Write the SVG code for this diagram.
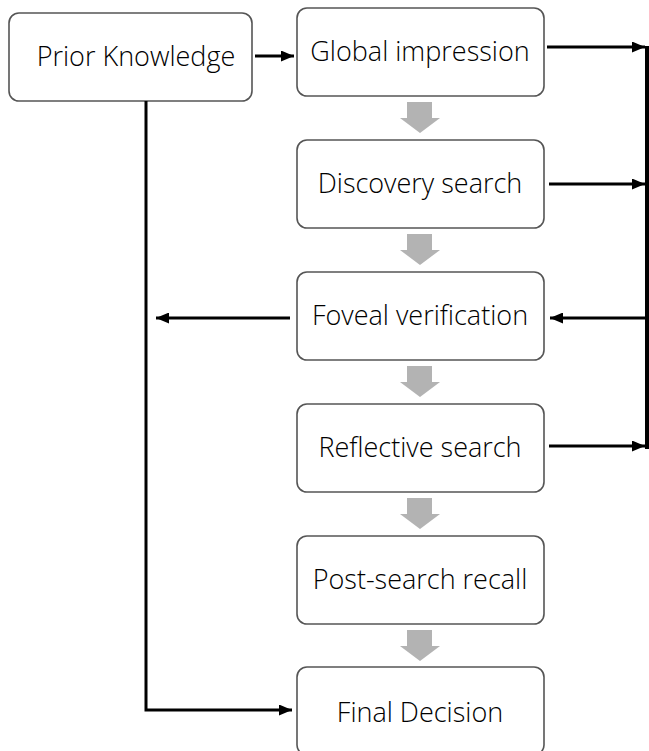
<svg xmlns="http://www.w3.org/2000/svg" width="649" height="751" viewBox="0 0 649 751">
<style>
.box{fill:#fff;stroke:#555;stroke-width:1.6}
.t{font-family:"Open Sans","Liberation Sans",sans-serif;font-size:27px;font-weight:300;fill:#000;text-anchor:middle}
.c{fill:none;stroke:#000;stroke-width:3}
.g{fill:#b3b3b3}
</style>
<defs>
<marker id="ah" viewBox="0 0 13 11" refX="13" refY="5.5" markerWidth="13" markerHeight="11" markerUnits="userSpaceOnUse" orient="auto">
<path d="M0,0 L13,5.5 L0,11 Z" fill="#000"/>
</marker>
</defs>
<g id="prior"><rect class="box" x="9" y="13" width="243" height="88" rx="10"/><text class="t" x="136" y="66">Prior Knowledge</text></g>
<g id="global"><rect class="box" x="297" y="8" width="247" height="88" rx="10"/><text class="t" x="420" y="61">Global impression</text></g>
<g id="discovery"><rect class="box" x="297" y="140" width="247" height="88" rx="10"/><text class="t" x="420" y="193">Discovery search</text></g>
<g id="foveal"><rect class="box" x="297" y="272" width="247" height="88" rx="10"/><text class="t" x="420" y="325">Foveal verification</text></g>
<g id="reflective"><rect class="box" x="297" y="404" width="247" height="88" rx="10"/><text class="t" x="420" y="457">Reflective search</text></g>
<g id="postsearch"><rect class="box" x="297" y="536" width="247" height="88" rx="10"/><text class="t" x="420" y="589">Post-search recall</text></g>
<g id="final"><rect class="box" x="297" y="667" width="247" height="88" rx="10"/><text class="t" x="420" y="722">Final Decision</text></g>
<g id="connectors">
<path class="g" d="M407,102 H432 V118 H440 L420,133 L400,118 H407 Z"/>
<path class="g" d="M407,234 H432 V250 H440 L420,265 L400,250 H407 Z"/>
<path class="g" d="M407,366 H432 V382 H440 L420,397 L400,382 H407 Z"/>
<path class="g" d="M407,498 H432 V514 H440 L420,529 L400,514 H407 Z"/>
<path class="g" d="M407,630 H432 V646 H440 L420,661 L400,646 H407 Z"/>
<line class="c" x1="255" y1="56" x2="294" y2="56" marker-end="url(#ah)"/>
<line class="c" x1="547" y1="47" x2="645" y2="47" marker-end="url(#ah)"/>
<line class="c" x1="549" y1="184" x2="645" y2="184" marker-end="url(#ah)"/>
<line class="c" x1="549" y1="446" x2="645" y2="446" marker-end="url(#ah)"/>
<line class="c" x1="646" y1="318" x2="550" y2="318" marker-end="url(#ah)"/>
<line x1="647" y1="46" x2="647" y2="449" stroke="#000" stroke-width="4"/>
<line class="c" x1="290" y1="318" x2="156" y2="318" marker-end="url(#ah)"/>
<path class="c" d="M146,101 V710 H292" marker-end="url(#ah)"/>
</g>
</svg>
